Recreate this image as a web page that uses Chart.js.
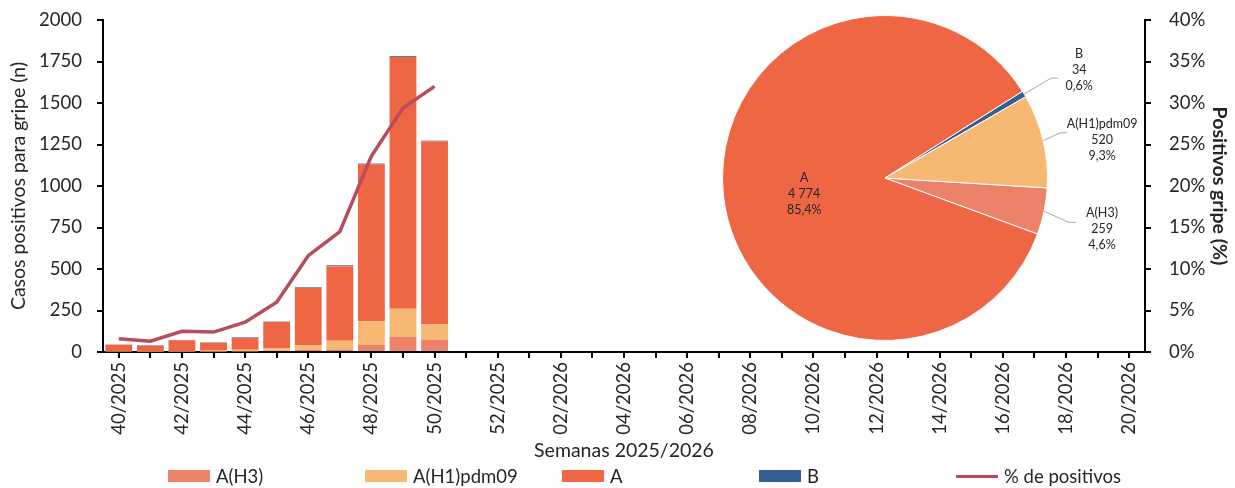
<!DOCTYPE html>
<html>
<head>
<meta charset="utf-8">
<script src="https://cdn.jsdelivr.net/npm/chart.js@4.4.1/dist/chart.umd.min.js"></script>
<style>
  html, body { margin: 0; padding: 0; background: #fff; }
  #wrap { position: relative; width: 1235px; height: 488px; font-family: Lato, "Open Sans", sans-serif; }
  #myChart { position: absolute; left: 0; top: 0; }
  #pieChart { position: absolute; left: 717px; top: 10px; pointer-events: none; }
  #leyenda { position: absolute; left: 168px; top: 465px; display: flex; }
  .item { width: 197px; display: flex; align-items: center; font-size: 18.5px; color: #262626; line-height: 22px; }
  .muestra { width: 42px; height: 12px; margin-right: 6px; }
</style>
</head>
<body>
<div id="wrap">
  <canvas id="myChart" width="1235" height="488"></canvas>
  <canvas id="pieChart" width="440" height="336"></canvas>
  <div id="leyenda"></div>
</div>
<script>
// DATOS

var semanas = ['40/2025','41/2025','42/2025','43/2025','44/2025','45/2025','46/2025','47/2025',
  '48/2025','49/2025','50/2025','51/2025','52/2025','01/2026','02/2026','03/2026','04/2026',
  '05/2026','06/2026','07/2026','08/2026','09/2026','10/2026','11/2026','12/2026','13/2026',
  '14/2026','15/2026','16/2026','17/2026','18/2026','19/2026','20/2026'];

// casos por semana (40/2025 a 50/2025)
var casosH3 = [3, 2, 3, 3, 4, 6, 12, 16, 45, 91, 75];
var casosH1 = [2, 2, 3, 5, 10, 16, 30, 52, 140, 170, 90];
var casosA  = [39, 33, 65, 48, 70, 159, 344, 449, 946, 1516, 1105];
var casosB  = [1, 3, 1, 2, 4, 2, 4, 5, 4, 5, 3];
var porcentajePositivos = [1.6, 1.3, 2.5, 2.4, 3.6, 6.0, 11.6, 14.5, 23.6, 29.4, 32.0];

// acumulado de la temporada (sectores)
var tiposGripe = ['A(H3)', 'A', 'B', 'A(H1)pdm09'];
var totalesGripe = [259, 4774, 34, 520];

// COLORES
var colorH3 = '#ec826a';
var colorH1 = '#f6b873';
var colorA = '#ef6645';
var colorB = '#355f94';
var colorLinea = '#b84c5d';

Chart.defaults.font.family = 'Lato, "Open Sans", sans-serif';
Chart.defaults.font.size = 18.5;
Chart.defaults.color = '#262626';

function completar(arr){
  var out = arr.slice();
  while (out.length < semanas.length) out.push(null);
  return out;
}

function miles(n){
  return String(n).replace(/\B(?=(\d{3})+(?!\d))/g, ' ');
}

// el eje vertical no debe empujar el area del grafico hacia abajo
function ajustarEjeY(ancho){
  return function(s){
    s.width = ancho;
    s.paddingTop = 10;
    s.paddingBottom = 10;
  };
}

// GRAFICO DE BARRAS + LINEA

var ctx = document.getElementById('myChart').getContext('2d');
var chart = new Chart(ctx, {
  type: 'bar',
  data: {
    labels: semanas,
    datasets: [
      { label: 'A(H3)', data: completar(casosH3), backgroundColor: colorH3, order: 1 },
      { label: 'A(H1)pdm09', data: completar(casosH1), backgroundColor: colorH1, order: 1 },
      { label: 'A', data: completar(casosA), backgroundColor: colorA, order: 1 },
      { label: 'B', data: completar(casosB), backgroundColor: colorB, order: 1 },
      { type: 'line', label: '% de positivos', data: completar(porcentajePositivos), yAxisID: 'y2',
        borderColor: colorLinea, backgroundColor: colorLinea, borderWidth: 3.5,
        pointRadius: 0, tension: 0, order: 0 }
    ]
  },
  options: {
    responsive: false,
    animation: false,
    layout: { padding: { top: 20, bottom: 26, left: 0, right: 0 } },
    datasets: { bar: { barPercentage: 0.85, categoryPercentage: 1 } },
    plugins: { legend: { display: false }, tooltip: { enabled: false } },
    scales: {
      x: {
        stacked: true,
        grid: { drawOnChartArea: false, offset: false, color: '#000', lineWidth: 2, tickLength: 6 },
        border: { color: '#000', width: 2 },
        ticks: {
          autoSkip: false, minRotation: 90, maxRotation: 90, padding: 4,
          callback: function(v, i){ return i % 2 === 0 ? this.getLabelForValue(v) : ''; }
        },
        title: { display: true, text: 'Semanas 2025/2026', font: { size: 19.5 }, padding: 0 },
        afterFit: function(s){ s.height = 110; }
      },
      y: {
        stacked: true, min: 0, max: 2000,
        grid: { drawOnChartArea: false, color: '#000', lineWidth: 2, tickLength: 6 },
        border: { color: '#000', width: 2 },
        ticks: { stepSize: 250, padding: 15, callback: function(v){ return String(v); } },
        title: { display: true, text: 'Casos positivos para gripe (n)', font: { size: 19.5 }, padding: { top: 7, bottom: 0 } },
        afterFit: ajustarEjeY(103)
      },
      y2: {
        position: 'right', min: 0, max: 40,
        grid: { drawOnChartArea: false, color: '#000', lineWidth: 2, tickLength: 6 },
        border: { color: '#000', width: 2 },
        ticks: { stepSize: 5, padding: 18, callback: function(v){ return v + '%'; } },
        title: { display: true, text: 'Positivos gripe (%)', font: { size: 19.5, weight: 'bold' }, padding: { top: 4, bottom: 0 } },
        afterFit: ajustarEjeY(90)
      }
    }
  }
});

// leyenda
var leyenda = document.getElementById('leyenda');
chart.data.datasets.forEach(function(ds){
  var item = document.createElement('div');
  item.className = 'item';
  var m = document.createElement('span');
  m.className = 'muestra';
  m.style.background = ds.backgroundColor;
  if (ds.type === 'line') { m.style.height = '3px'; }
  var t = document.createElement('span');
  t.textContent = ds.label;
  item.appendChild(m);
  item.appendChild(t);
  leyenda.appendChild(item);
});

// GRAFICO DE SECTORES

// desplazamientos de las etiquetas respecto al borde del sector
var posEtiquetas = [
  { texto: [58, 18], linea: [32, 11] },
  { dentro: true, desp: [0, 7] },
  { texto: [55, -24], linea: [34, -16] },
  { texto: [59, -1], linea: [24, -8] }
];

var etiquetasPie = {
  id: 'etiquetasPie',
  afterDatasetsDraw: function(pc){
    var c = pc.ctx;
    var meta = pc.getDatasetMeta(0);
    var datos = pc.data.datasets[0].data;
    var total = datos.reduce(function(a, b){ return a + b; }, 0);
    c.save();
    c.font = '12.5px Lato, "Open Sans", sans-serif';
    c.fillStyle = '#262626';
    c.textAlign = 'center';
    c.textBaseline = 'middle';
    meta.data.forEach(function(arc, i){
      var p = arc.getProps(['x', 'y', 'startAngle', 'endAngle', 'outerRadius'], true);
      var mid = (p.startAngle + p.endAngle) / 2;
      var bx = p.x + Math.cos(mid) * p.outerRadius;
      var by = p.y + Math.sin(mid) * p.outerRadius;
      var pos = posEtiquetas[i];
      var cx, cy;
      if (pos.dentro) {
        cx = p.x + Math.cos(mid) * p.outerRadius * 0.5 + pos.desp[0];
        cy = p.y + Math.sin(mid) * p.outerRadius * 0.5 + pos.desp[1];
      } else {
        cx = bx + pos.texto[0];
        cy = by + pos.texto[1];
        var ex = bx + pos.linea[0], ey = by + pos.linea[1];
        c.strokeStyle = '#a6a6a6';
        c.lineWidth = 1;
        c.beginPath();
        c.moveTo(bx, by);
        c.lineTo(ex - 7, ey);
        c.lineTo(ex, ey);
        c.stroke();
      }
      var lineas = [pc.data.labels[i], miles(datos[i]), (datos[i] / total * 100).toFixed(1).replace('.', ',') + '%'];
      lineas.forEach(function(t, k){ c.fillText(t, cx, cy + (k - 1) * 16); });
    });
    c.restore();
  }
};

var pieCtx = document.getElementById('pieChart').getContext('2d');
var pie = new Chart(pieCtx, {
  type: 'pie',
  data: {
    labels: tiposGripe,
    datasets: [{
      data: totalesGripe,
      backgroundColor: [colorH3, colorA, colorB, colorH1],
      borderColor: '#fff',
      borderWidth: 1
    }]
  },
  options: {
    responsive: false,
    animation: false,
    rotation: 93.5,
    layout: { padding: { left: 5, top: 5, bottom: 5, right: 109 } },
    plugins: { legend: { display: false }, tooltip: { enabled: false } }
  },
  plugins: [etiquetasPie]
});
</script>
</body>
</html>
